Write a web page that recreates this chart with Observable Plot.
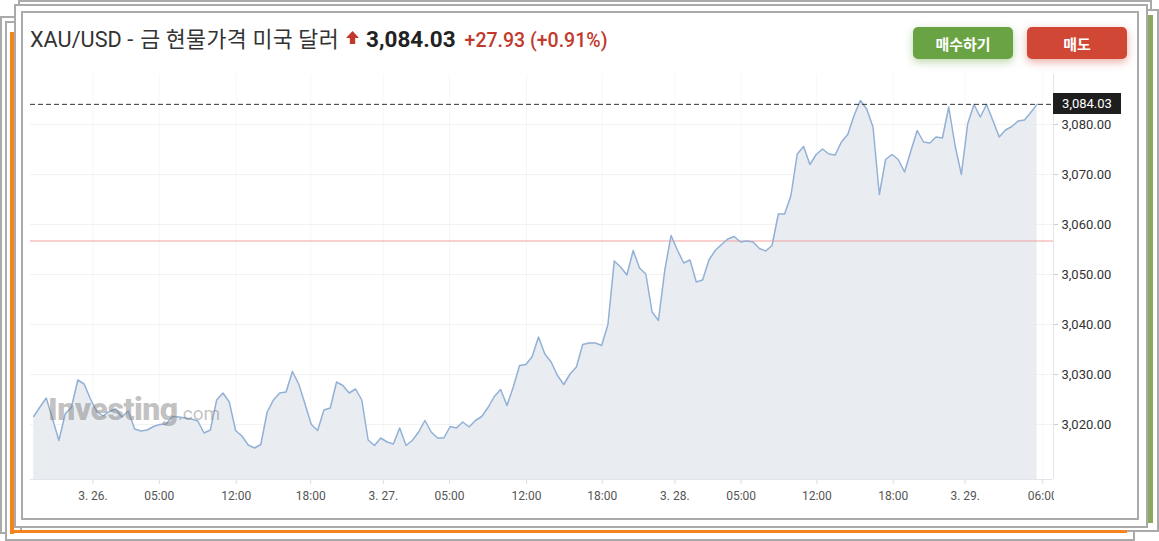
<!DOCTYPE html>
<html><head><meta charset="utf-8">
<script src="https://cdn.jsdelivr.net/npm/d3@7"></script>
<script src="https://cdn.jsdelivr.net/npm/@observablehq/plot@0.6"></script>
<style>
body{margin:0;background:#fff;font-family:Roboto,"Noto Sans CJK KR",sans-serif;}
#root{position:relative;width:1159px;height:541px;overflow:hidden;background:#fff;}
.fr{position:absolute;box-sizing:border-box;border:2px solid #aaa;background:#fff;}
#title{position:absolute;left:30px;top:22px;font-size:21.7px;color:#333;white-space:nowrap;display:flex;align-items:baseline;}
#title .ko{font-family:"Noto Sans CJK KR",sans-serif;margin-left:7px;letter-spacing:0.4px;}
#title .price{font-weight:700;color:#222;margin-left:6px;font-size:22.5px;}
#title .chg{color:#c0392b;font-weight:500;font-size:19.5px;margin-left:9px;}
.btn{position:absolute;top:27px;height:32px;width:100px;border-radius:5px;color:#fff;font-weight:700;font-size:15px;font-family:"Noto Sans CJK KR",sans-serif;display:flex;align-items:center;justify-content:center;}
#buy{left:913px;background:#6aa343;box-shadow:0 3px 8px rgba(106,163,67,0.45);}
#sell{left:1027px;background:#d04835;box-shadow:0 3px 8px rgba(208,72,53,0.45);}
#chart{position:absolute;left:0;top:70px;width:1136px;height:440px;}
#chart svg{max-width:none;}
#tag{position:absolute;background:#1e1e1e;color:#fff;font-size:13px;height:21px;line-height:21px;box-sizing:border-box;width:68px;text-align:center;}
#wm{position:absolute;left:48px;top:390px;color:rgba(125,125,125,0.48);white-space:nowrap;font-family:Roboto,sans-serif;}
#wm b{font-size:32px;font-weight:900;letter-spacing:-0.5px;}
#wm span{font-size:19px;font-weight:400;}
#clipper{position:absolute;left:1054px;top:486px;width:10px;height:20px;background:#fff;}
</style></head>
<body><div id="root">
  <div class="fr" style="left:0;top:16px;width:1130px;height:518px;"></div>
  <div class="fr" style="left:5px;top:21px;width:1130px;height:520px;"></div>
  <div class="fr" style="left:18px;top:0;width:1134px;height:520px;"></div>
  <div class="fr" style="left:20px;top:9px;width:1139px;height:523px;"></div>
  <div style="position:absolute;left:10px;top:32px;width:4px;height:502px;background:#f5841f;"></div>
  <div style="position:absolute;left:10px;top:530px;width:1117px;height:3px;background:#f5841f;"></div>
  <div class="fr" style="left:14px;top:4px;width:1134px;height:524px;"></div>
  <div style="position:absolute;left:1148px;top:15px;width:5px;height:508px;background:#8ba862;"></div>
  <div class="fr" style="left:21px;top:11px;width:1118px;height:509px;"></div>

  <div id="title"><span>XAU/USD -</span><span class="ko">금 현물가격 미국 달러</span>
    <svg width="15" height="15" viewBox="0 0 14 14" style="margin-left:6px;align-self:center;"><path d="M7 1 L13 7.5 L9.5 7.5 L9.5 13 L4.5 13 L4.5 7.5 L1 7.5 Z" fill="#c0392b"/></svg>
    <span class="price">3,084.03</span><span class="chg">+27.93 (+0.91%)</span></div>
  <div class="btn" id="buy">매수하기</div>
  <div class="btn" id="sell">매도</div>
  <div id="chart"></div>
  <div id="wm"><b>Investing</b><span>.com</span></div>
  <div id="clipper"></div>
  <div id="tag"></div>
</div>
<script>
const values = [
3021.6,3023.5,3025.3,3021.1,3016.8,3022.1,3023.5,3028.9,3028.1,3025.1,
3022.6,3021.7,3022.6,3023.1,3021.5,3022.7,3019.1,3018.7,3018.9,3019.6,
3020.0,3020.1,3021.6,3021.5,3021.3,3021.1,3020.7,3018.3,3018.9,3024.9,
3026.3,3024.5,3018.8,3017.7,3015.9,3015.3,3016.0,3022.5,3024.9,3026.3,
3026.5,3030.6,3028.1,3024.1,3020.0,3018.8,3022.9,3023.3,3028.5,3027.8,
3026.3,3027.1,3024.9,3016.9,3015.8,3017.3,3016.5,3016.1,3019.3,3015.8,
3016.8,3018.5,3020.8,3018.5,3017.3,3017.3,3019.6,3019.3,3020.5,3019.5,
3020.8,3021.6,3023.4,3025.6,3027.0,3023.8,3027.5,3031.8,3032.0,3033.6,
3037.5,3034.1,3032.5,3029.8,3028.0,3030.1,3031.5,3036.0,3036.3,3036.3,
3035.8,3040.0,3052.7,3051.5,3049.9,3054.8,3051.3,3050.1,3042.5,3040.8,
3050.8,3057.8,3054.9,3052.3,3052.9,3048.5,3048.9,3052.9,3054.8,3056.0,
3057.1,3057.6,3056.5,3056.7,3056.5,3055.2,3054.7,3055.8,3062.1,3062.1,
3065.8,3074.1,3075.6,3072.0,3074.0,3075.1,3074.1,3073.9,3076.5,3078.0,
3081.8,3084.8,3083.1,3079.5,3066.0,3073.0,3074.0,3073.0,3070.5,3074.7,
3078.8,3076.5,3076.3,3077.5,3077.3,3083.5,3075.8,3070.0,3080.1,3084.0,
3081.5,3084.0,3080.8,3077.5,3078.9,3079.6,3080.7,3080.9,3082.4,3084.03
];
const lastPrice = 3084.03;
const prevClose = 3056.7;
const yTicks = [3020, 3030, 3040, 3050, 3060, 3070, 3080];
const xTicks = [9.4, 19.9, 32.1, 43.9, 55.4, 65.9, 78.1, 90.1, 101.6, 112.1, 124.1, 136.2, 147.6, 159.9];
const xTickLabels = ["3. 26.","05:00","12:00","18:00","3. 27.","05:00","12:00","18:00","3. 28.","05:00","12:00","18:00","3. 29.","06:00"];
const xDomain = [-0.5, 161.6];
const yDomain = [3009, 3090];

const data = values.map((v, i) => ({i, v}));
const fmt = d3.format(",.2f");

const chart = Plot.plot({
  width: 1136, height: 440,
  marginLeft: 30, marginRight: 83, marginTop: 4, marginBottom: 31,
  x: {domain: xDomain, axis: null, label: null},
  y: {domain: yDomain, axis: null, label: null},
  style: {fontFamily: "Roboto, sans-serif", background: "transparent", color: "#333", overflow: "visible"},
  marks: [
    Plot.gridY(yTicks, {stroke: "#000", strokeOpacity: 0.05}),
    Plot.gridX(xTicks, {stroke: "#000", strokeOpacity: 0.035}),
    Plot.areaY(data, {x: "i", y1: yDomain[0], y2: "v", fill: "#e9edf2"}),
    Plot.ruleY([prevClose], {stroke: "#f2a29c", strokeWidth: 1.2}),
    Plot.lineY(data, {x: "i", y: "v", stroke: "#93b1d6", strokeWidth: 1.5}),
    Plot.ruleY([lastPrice], {stroke: "#333", strokeWidth: 1, strokeDasharray: "5,3"}),
    Plot.ruleX([xDomain[1]], {stroke: "#e3e5ec"}),
    Plot.ruleY([yDomain[0]], {stroke: "#e3e5ec"}),
    Plot.axisY(yTicks, {anchor: "right", label: null, tickFormat: fmt, tickSize: 4, tickPadding: 4, fontSize: 13, fill: "#333", stroke: "#ccc"}),
    Plot.axisX(xTicks, {anchor: "bottom", label: null, tickFormat: (d, i) => xTickLabels[i], tickSize: 5, tickPadding: 7, fontSize: 12, fill: "#555", stroke: "#ddd"})
  ]
});
document.getElementById("chart").appendChild(chart);

const tag = document.getElementById("tag");
const yPx = chart.scale("y").apply(lastPrice) + 70;
const xPx = chart.scale("x").apply(xDomain[1]);
tag.style.left = xPx + "px";
tag.style.top = (yPx - 10.5) + "px";
tag.textContent = fmt(lastPrice);
</script>
</body></html>
